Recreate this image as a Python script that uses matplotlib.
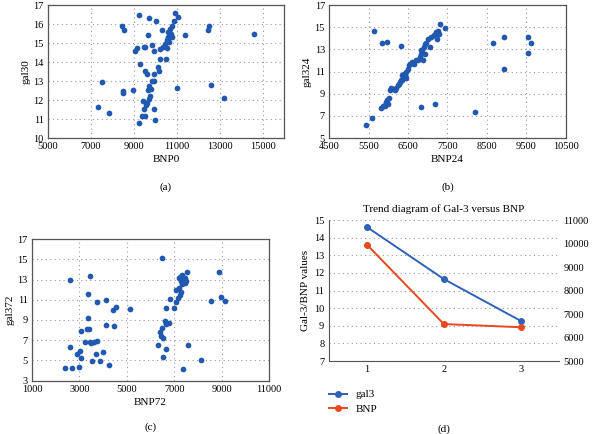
import numpy as np
import matplotlib.pyplot as plt

plt.rcParams['font.family'] = ['Liberation Serif', 'DejaVu Serif']

# (a) BNP0 vs gal30
bnp0 = [9241, 9721, 10031, 8437, 8545, 9659, 9845, 9520, 9450, 9149, 9056, 9938, 10217,
        9288, 10217, 10495, 9536, 9613, 9938, 10124, 10186, 9830, 9923, 9706, 9644, 9783,
        7523, 8483, 8483, 8978, 10991, 9737, 9706, 9443, 9598, 9551, 9489, 9923, 7322, 7848,
        9381, 9536, 9985, 9226, 12616, 13220, 14582, 12508, 12477, 11393, 10913, 11068, 10882,
        10759, 10681, 10604, 10712, 10759, 10604, 10526, 10650, 10449, 10372, 10526, 10294, 10573]
gal30 = [16.51, 16.32, 16.19, 15.93, 15.70, 15.44, 14.91, 14.79, 14.80, 14.74, 14.58, 14.60, 14.70,
         13.91, 14.16, 14.14, 13.53, 13.39, 13.37, 13.72, 13.51, 12.98, 12.98, 12.72, 12.54, 12.60,
         12.96, 12.46, 12.37, 12.54, 12.61, 12.19, 12.07, 11.95, 11.86, 11.75, 11.54, 11.54, 11.61, 11.32,
         11.16, 11.16, 10.95, 10.79, 12.81, 12.12, 15.49, 15.93, 15.70, 15.44, 16.60, 16.37, 16.16,
         15.93, 15.75, 15.58, 15.49, 15.35, 15.28, 15.14, 15.05, 14.96, 14.82, 14.74, 15.70, 15.35]

# (b) BNP24 vs gal324
bnp24 = [5447, 5590, 5641, 5844, 5971, 6334, 6833, 7197, 8202, 8650, 8946, 8938, 9538, 9623, 9538,
         7323, 7441, 5827, 5869, 5912, 5954, 5979, 6022, 5929, 5996, 6039, 6081, 6123, 6174, 6208,
         6250, 6292, 6318, 6377, 6419, 6394, 6461, 6351, 6503, 6529, 6563, 6605, 6647, 6698, 6757,
         6816, 6842, 6867, 6901, 6842, 6926, 6968, 7070, 7011, 7095, 7154, 7222, 7264, 7289, 7247,
         7222, 6926, 6884, 6270, 6360, 6440]
gal324 = [6.14, 6.80, 14.68, 13.63, 13.72, 13.30, 7.83, 8.10, 7.37, 13.63, 14.11, 11.20, 14.17, 13.57, 12.70,
          15.29, 14.95, 7.74, 7.86, 7.98, 8.25, 8.46, 8.64, 7.86, 8.10, 9.30, 9.54, 9.45, 9.30, 9.54,
          9.75, 10.05, 10.26, 10.44, 10.56, 10.80, 10.95, 10.65, 11.26, 11.56, 11.71, 11.86, 11.71, 12.01, 12.07,
          12.31, 12.61, 12.91, 13.21, 12.97, 13.45, 13.57, 13.21, 13.96, 14.17, 14.35, 14.56, 14.71, 14.41, 13.96,
          14.26, 12.61, 12.01, 9.90, 10.20, 10.45]

# (c) BNP72 vs gal372
bnp72 = [2406, 2674, 2969, 2617, 2617, 2899, 3039, 3053, 3067, 3236, 3320, 3405, 3349, 3363, 3461,
         3447, 3503, 3616, 3743, 3686, 3532, 3855, 3996, 3757, 4108, 4137, 4235, 4404, 4446, 4544,
         5149, 6499, 6302, 6527, 6640, 6387, 6485, 6457, 6527, 6626, 6668, 6780, 6668, 6809, 6992,
         7062, 7090, 7189, 7160, 7231, 7301, 7203, 7259, 7343, 7400, 7442, 7512, 7541, 7343, 7442,
         7301, 7583, 8131, 7371, 8553, 8876, 8947, 9129]
gal372 = [4.29, 4.23, 4.36, 12.94, 6.34, 5.61, 5.94, 5.28, 7.92, 6.87, 8.12, 8.12, 9.21, 11.59, 13.40,
          6.87, 6.77, 6.87, 6.93, 5.68, 4.95, 4.99, 5.88, 10.76, 10.96, 8.52, 4.56, 9.94, 8.39, 10.33,
          10.10, 15.18, 6.54, 5.32, 6.14, 7.83, 8.19, 7.46, 7.20, 8.85, 8.62, 8.68, 10.17, 11.06, 10.17,
          10.73, 11.92, 12.15, 11.16, 11.49, 11.75, 13.14, 13.30, 13.47, 12.97, 12.64, 12.81, 13.73, 12.53, 13.14,
          12.81, 6.54, 5.02, 4.13, 10.89, 13.70, 11.29, 10.89]

# (d) trend
stages = [1, 2, 3]
gal3_mean = [14.6, 11.65, 9.28]
bnp_mean = [9950, 6575, 6440]

dot = '#2158B0'
red = '#E8481E'
tfs = 7.5

fig = plt.figure(figsize=(5.93, 4.34), dpi=100)


def scatter_panel(rect, x, y, xlim, xticks, ylim, yticks, xlabel, ylabel, cap, cap_y):
    ax = fig.add_axes(rect)
    ax.scatter(x, y, s=17, color=dot, zorder=3, linewidths=0)
    ax.set_xlim(*xlim)
    ax.set_ylim(*ylim)
    ax.set_xticks(xticks)
    ax.set_yticks(yticks)
    ax.grid(True, linestyle=(0, (1, 3)), color='#999999', linewidth=0.8)
    ax.tick_params(length=0, labelsize=tfs, pad=3)
    for s in ax.spines.values():
        s.set_color('#555555')
        s.set_linewidth(0.9)
    ax.set_xlabel(xlabel, fontsize=8, labelpad=3)
    ax.set_ylabel(ylabel, fontsize=8, labelpad=2)
    ax.text(0.5, cap_y, cap, transform=ax.transAxes, ha='center', va='center', fontsize=8)
    return ax


scatter_panel([0.081, 0.682, 0.398, 0.306], bnp0, gal30, (5000, 16000), range(5000, 16000, 2000),
              (10, 17), range(10, 18), 'BNP0', 'gal30', '(a)', -0.37)
scatter_panel([0.555, 0.682, 0.399, 0.306], bnp24, gal324, (4500, 10500), range(4500, 11000, 1000),
              (5, 17), range(5, 18, 2), 'BNP24', 'gal324', '(b)', -0.37)
scatter_panel([0.054, 0.123, 0.400, 0.326], bnp72, gal372, (1000, 11000), range(1000, 12000, 2000),
              (3, 17), range(3, 18, 2), 'BNP72', 'gal372', '(c)', -0.33)

# (d)
ax = fig.add_axes([0.554, 0.168, 0.389, 0.325])
ax2 = ax.twinx()
l1, = ax.plot(stages, gal3_mean, color='#2E62B8', marker='o', markersize=4, linewidth=1.4, label='gal3')
l2, = ax2.plot(stages, bnp_mean, color=red, marker='o', markersize=4, linewidth=1.4, label='BNP')
ax.set_xlim(0.5, 3.5)
ax.set_ylim(7, 15)
ax.set_yticks(range(7, 16))
ax2.set_ylim(5000, 11000)
ax2.set_yticks(range(5000, 12000, 1000))
ax.set_xticks(stages)
ax.grid(True, axis='y', linestyle=(0, (1, 3)), color='#999999', linewidth=0.8)
for a in (ax, ax2):
    a.tick_params(length=0, labelsize=tfs, pad=3)
    for side in ('top', 'right'):
        a.spines[side].set_visible(False)
ax2.spines['left'].set_visible(False)
ax2.spines['bottom'].set_visible(False)
ax.spines['left'].set_color('#555555')
ax.spines['bottom'].set_color('#555555')
ax.set_ylabel('Gal-3/BNP values', fontsize=8, labelpad=3)
ax.set_title('Trend diagram of Gal-3 versus BNP', fontsize=8, pad=6)
fig.legend(handles=[l1, l2], loc='upper left', bbox_to_anchor=(0.545, 0.115), frameon=False,
           fontsize=8, handlelength=1.6, labelspacing=0.4, borderpad=0)
ax.text(0.5, -0.48, '(d)', transform=ax.transAxes, ha='center', va='center', fontsize=8)

fig.savefig('out.png', dpi=100)
